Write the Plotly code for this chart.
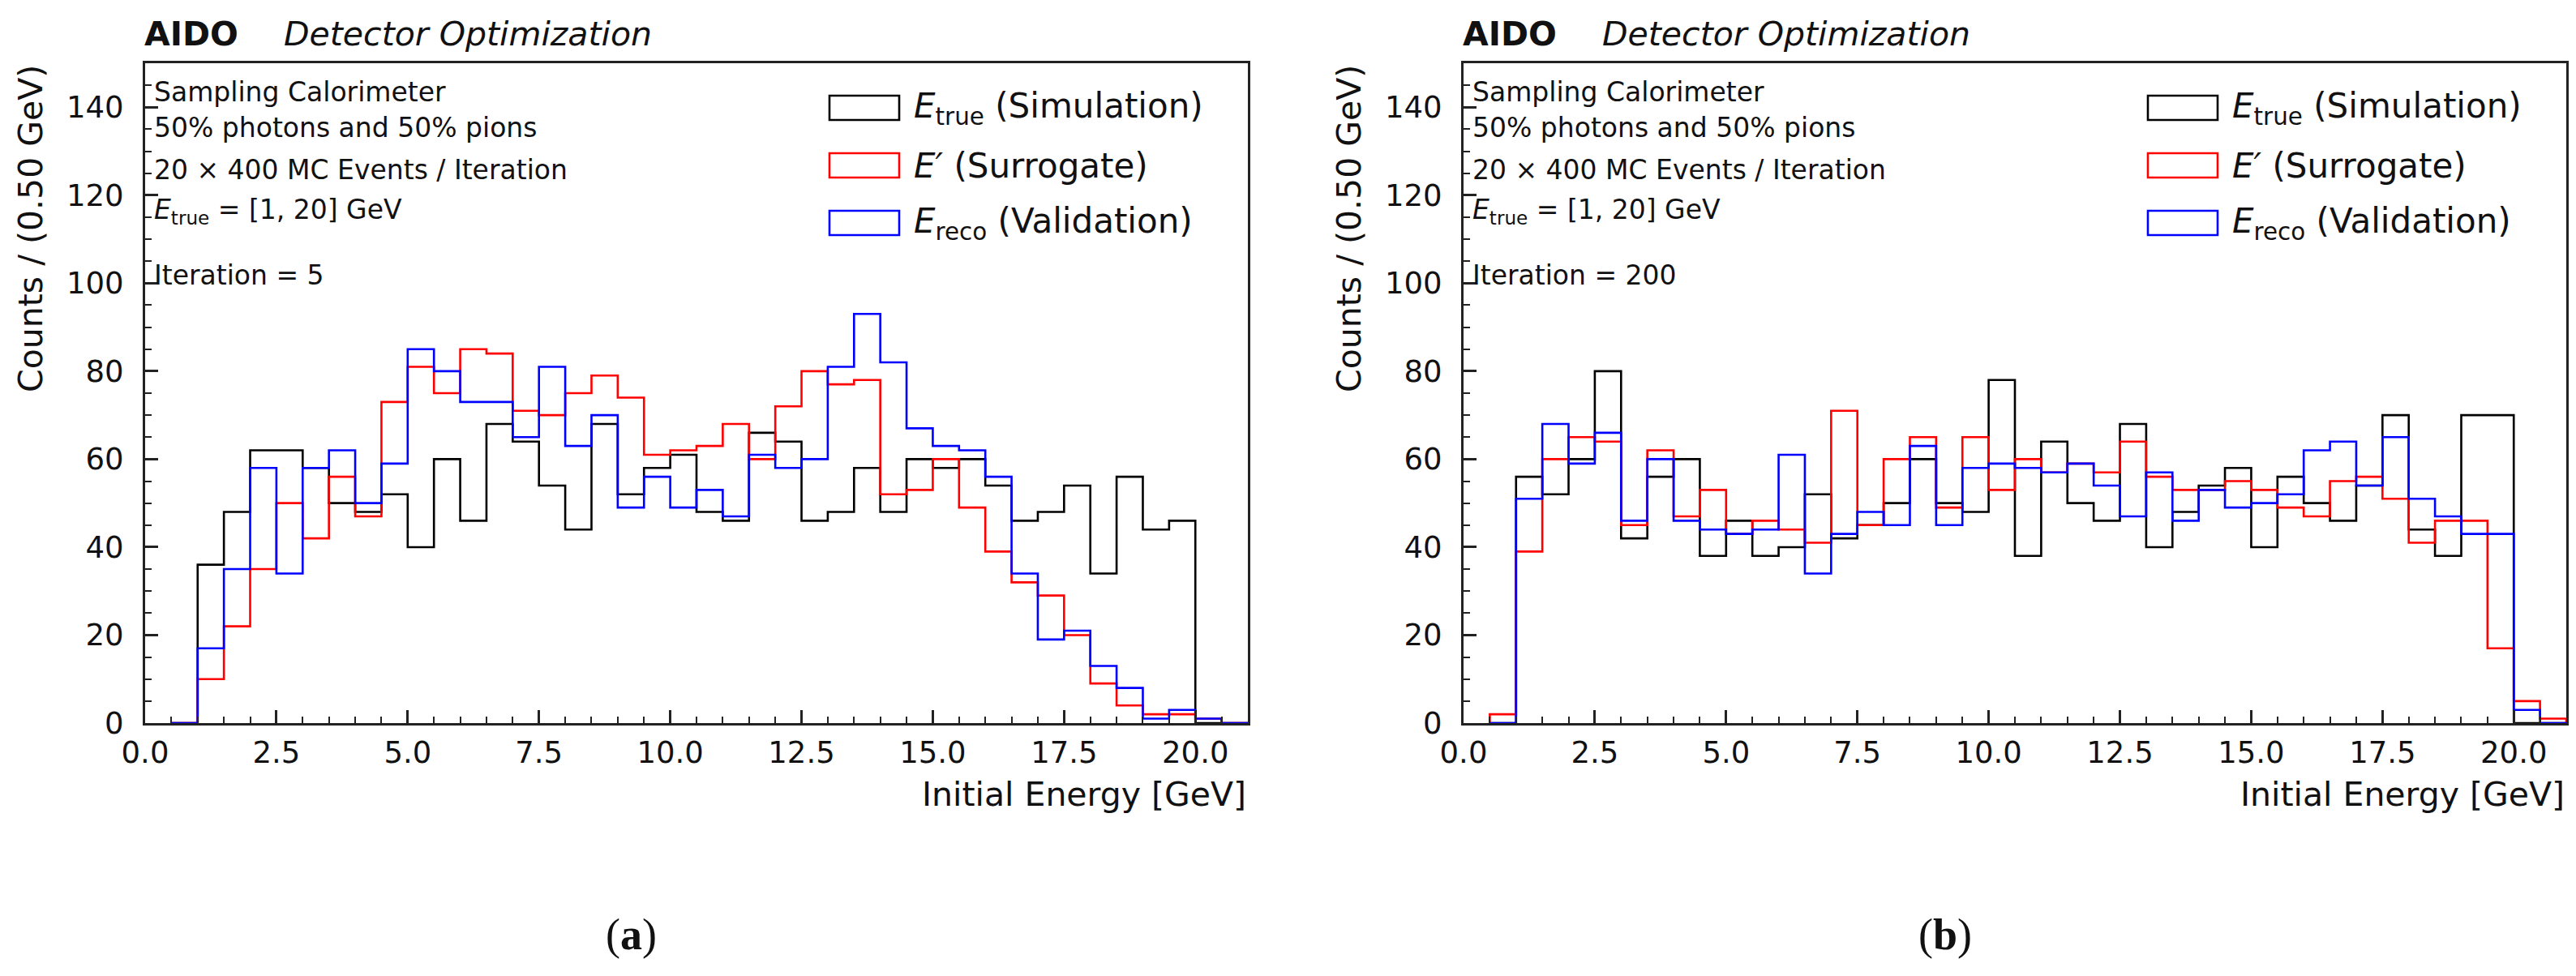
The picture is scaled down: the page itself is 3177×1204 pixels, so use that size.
import plotly.graph_objects as go

W, H = 3177, 1204
PAGE_OFFSET = 3  # small offset of the figure inside the html page

# 0.5 GeV bins from 0.5 to 21.0 GeV
BIN_EDGES = [0.5 + 0.5 * i for i in range(42)]

# Iteration 5 (panel a)
TRUE_IT5 = [0, 36, 48, 62, 62, 58, 50, 48, 52, 40, 60, 46, 68, 64, 54, 44, 68, 52, 58, 61,
            48, 46, 66, 64, 46, 48, 58, 48, 60, 58, 60, 54, 46, 48, 54, 34, 56, 44, 46, 0, 0]
SURR_IT5 = [0, 10, 22, 35, 50, 42, 56, 47, 73, 81, 75, 85, 84, 71, 70, 75, 79, 74, 61, 62,
            63, 68, 60, 72, 80, 77, 78, 52, 53, 60, 49, 39, 32, 29, 20, 9, 4, 2, 2, 1, 0]
RECO_IT5 = [0, 17, 35, 58, 34, 58, 62, 50, 59, 85, 80, 73, 73, 65, 81, 63, 70, 49, 56, 49,
            53, 47, 61, 58, 60, 81, 93, 82, 67, 63, 62, 56, 34, 19, 21, 13, 8, 1, 3, 1, 0]

# Iteration 200 (panel b)
TRUE_IT200 = [0, 56, 52, 60, 80, 42, 56, 60, 38, 46, 38, 40, 52, 42, 45, 50, 60, 50, 48, 78,
              38, 64, 50, 46, 68, 40, 48, 54, 58, 40, 56, 50, 46, 54, 70, 44, 38, 70, 70, 0, 0]
SURR_IT200 = [2, 39, 60, 65, 64, 45, 62, 47, 53, 43, 46, 44, 41, 71, 45, 60, 65, 49, 65, 53,
              60, 57, 59, 57, 64, 56, 53, 53, 55, 53, 49, 47, 55, 56, 51, 41, 46, 46, 17, 5, 1]
RECO_IT200 = [0, 51, 68, 59, 66, 46, 60, 46, 44, 43, 44, 61, 34, 43, 48, 45, 63, 45, 58, 59,
              58, 57, 59, 54, 47, 57, 46, 53, 49, 50, 52, 62, 64, 54, 65, 51, 47, 43, 43, 3, 0]

PANELS = [
    {"label": "a", "iteration": 5, "series": [TRUE_IT5, SURR_IT5, RECO_IT5]},
    {"label": "b", "iteration": 200, "series": [TRUE_IT200, SURR_IT200, RECO_IT200]},
]

SERIES_LABELS = [
    "<i>E</i><sub>true</sub> (Simulation)",
    "<i>E′</i> (Surrogate)",
    "<i>E</i><sub>reco</sub> (Validation)",
]
SERIES_COLORS = ["#000000", "#ff0000", "#0000ff"]

INFO_LINES = [
    "Sampling Calorimeter",
    "50% photons and 50% pions",
    "20 × 400 MC Events / Iteration",
    "<i>E</i><sub>true</sub> = [1, 20] GeV",
]

FONT = "DejaVu Sans"
AX_COLOR = "#222222"
TXT_COLOR = "#111111"


def px(x):
    return (x - PAGE_OFFSET) / W


def py(y):
    return 1 - (y - PAGE_OFFSET) / H


def step_xy(counts):
    xs = [BIN_EDGES[0]] + BIN_EDGES[:-1] + [BIN_EDGES[-1]]
    ys = [0] + list(counts) + [0]
    return xs, ys


def note(x, y, text, size, xanchor="left", yanchor="middle", family=FONT, **kw):
    return dict(
        x=px(x), y=py(y), xref="paper", yref="paper", xanchor=xanchor, yanchor=yanchor,
        text=text, showarrow=False, font=dict(family=family, size=size, color=TXT_COLOR), **kw
    )


fig = go.Figure()
annotations = []
shapes = []

# pixel geometry of the left panel; right one is shifted by PANEL_SHIFT
PLOT_LEFT, PLOT_RIGHT, PLOT_TOP, PLOT_BOTTOM = 174, 1534, 73, 887
PANEL_SHIFT = 1626

for i, panel in enumerate(PANELS):
    dx = i * PANEL_SHIFT
    suffix = "" if i == 0 else str(i + 1)
    for counts, name, color in zip(panel["series"], SERIES_LABELS, SERIES_COLORS):
        xs, ys = step_xy(counts)
        fig.add_trace(
            go.Scatter(
                x=xs,
                y=ys,
                mode="lines",
                line=dict(color=color, width=2.6, shape="hv"),
                name=name,
                xaxis="x" + suffix,
                yaxis="y" + suffix,
                showlegend=False,
            )
        )

    axis_common = dict(
        showline=True,
        linewidth=3,
        linecolor=AX_COLOR,
        mirror=True,
        ticks="inside",
        tickcolor=AX_COLOR,
        tickwidth=2.5,
        ticklen=16,
        showgrid=False,
        zeroline=False,
        automargin=False,
        tickfont=dict(family=FONT, size=37, color=TXT_COLOR),
    )
    fig.update_layout(
        {
            "xaxis" + suffix: dict(
                axis_common,
                domain=[px(PLOT_LEFT + dx), px(PLOT_RIGHT + dx)],
                range=[0, 21],
                tick0=0,
                dtick=2.5,
                tickformat=".1f",
                anchor="y" + suffix,
                ticklabelstandoff=2,
                minor=dict(ticks="inside", dtick=0.5, ticklen=8, tickwidth=2, tickcolor=AX_COLOR, showgrid=False),
            ),
            "yaxis" + suffix: dict(
                axis_common,
                domain=[py(PLOT_BOTTOM), py(PLOT_TOP)],
                range=[0, 150],
                tick0=0,
                dtick=20,
                anchor="x" + suffix,
                ticklabelstandoff=16,
                minor=dict(ticks="inside", dtick=5, ticklen=8, tickwidth=2, tickcolor=AX_COLOR, showgrid=False),
            ),
        }
    )

    # header
    annotations.append(note(171 + dx, 37, "<b>AIDO</b>", 41))
    annotations.append(note(343 + dx, 37, "<i>Detector Optimization</i>", 41))

    # info text
    lines = INFO_LINES + ["Iteration = %d" % panel["iteration"]]
    for line, yc in zip(lines, [108, 152, 204, 256, 334]):
        annotations.append(note(183 + dx, yc, line, 33))

    # legend (open boxes)
    for name, color, yc in zip(SERIES_LABELS, SERIES_COLORS, [128, 199, 270]):
        shapes.append(dict(
            type="rect", xref="paper", yref="paper",
            x0=px(1018 + dx), x1=px(1104 + dx), y0=py(yc + 15), y1=py(yc - 15),
            line=dict(color=color, width=2.6), fillcolor="rgba(0,0,0,0)",
        ))
        annotations.append(note(1120 + dx, yc, name, 42))

    # axis titles
    annotations.append(note(33 + dx, PLOT_TOP, "Counts / (0.50 GeV)", 41,
                            xanchor="center", yanchor="top", textangle=-90))
    annotations.append(note(PLOT_RIGHT + dx, 975, "Initial Energy [GeV]", 41, xanchor="right"))

    # sub-figure label
    annotations.append(note(773 + dx * 0.997, 1148, "(<b>%s</b>)" % panel["label"], 54,
                            xanchor="center", family="Liberation Serif"))

fig.update_layout(
    width=W,
    height=H,
    autosize=False,
    margin=dict(l=0, r=0, t=0, b=0, pad=0, autoexpand=False),
    paper_bgcolor="white",
    plot_bgcolor="white",
    showlegend=False,
    annotations=annotations,
    shapes=shapes,
)

fig.write_html("out.html")
